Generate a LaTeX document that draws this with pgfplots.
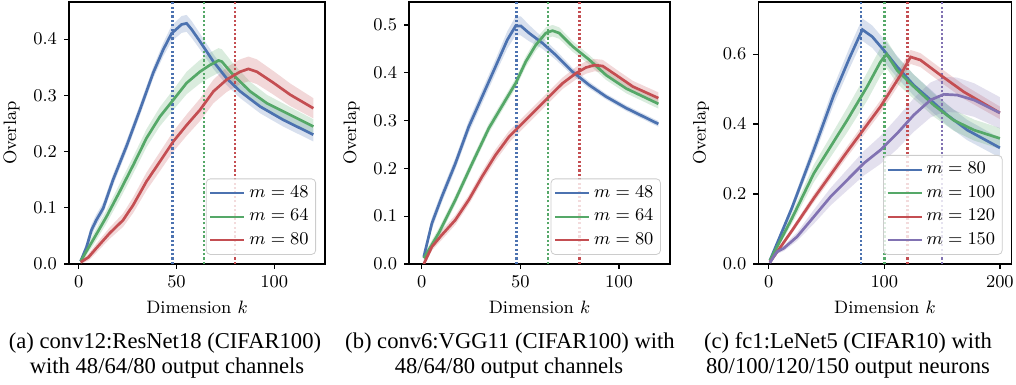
\documentclass[border=0pt]{standalone}
\usepackage{fontspec}
\usepackage{pgfplots}
\usepackage{pgfplotstable}
\pgfplotsset{compat=1.18}
\usepgfplotslibrary{fillbetween}
\newfontfamily\capfont{Liberation Serif}
\definecolor{cb}{HTML}{4C72B0}
\definecolor{cg}{HTML}{55A868}
\definecolor{cr}{HTML}{C44E52}
\definecolor{cp}{HTML}{8172B2}

\pgfplotstableread{
x y e
1 0.005 0.004
4 0.03 0.008
6.5 0.06 0.01
9 0.078 0.01
12.5 0.099 0.01
17.6 0.15 0.01
24.4 0.209 0.01
31.3 0.274 0.01
38.1 0.34 0.01
43.2 0.381 0.012
47.5 0.41 0.014
52.6 0.426 0.015
55.2 0.428 0.015
57.8 0.417 0.015
62 0.396 0.014
68.9 0.36 0.013
75.7 0.33 0.012
82.6 0.307 0.012
92.8 0.28 0.012
104.8 0.256 0.012
120 0.23 0.012
}\tAb
\pgfplotstableread{
x y e
1 0.005 0.004
7.4 0.043 0.01
14.2 0.084 0.012
21 0.129 0.014
27.9 0.176 0.015
34.7 0.224 0.016
41.5 0.262 0.017
48.4 0.292 0.018
55.2 0.322 0.02
62 0.342 0.021
67.2 0.354 0.022
71.5 0.362 0.022
73.2 0.36 0.022
79.1 0.336 0.02
87.7 0.307 0.017
96.2 0.286 0.015
106.5 0.268 0.014
120 0.2445 0.013
}\tAg
\pgfplotstableread{
x y e
1 0.003 0.003
5 0.012 0.006
9 0.028 0.008
15.9 0.055 0.01
22.7 0.078 0.012
27.9 0.105 0.014
34.7 0.147 0.016
41.5 0.182 0.017
48.4 0.218 0.018
55.2 0.247 0.019
62 0.274 0.02
68.9 0.307 0.021
75.7 0.328 0.022
82.6 0.342 0.022
86.8 0.347 0.022
91.1 0.342 0.022
99.7 0.322 0.021
108.2 0.301 0.02
120 0.277 0.018
}\tAr
\pgfplotstableread{
x y e
1 0.015 0.01
5.1 0.085 0.012
10.2 0.141 0.012
17 0.21 0.012
23.8 0.287 0.013
30.6 0.35 0.014
37.4 0.413 0.015
43.4 0.469 0.018
47.6 0.498 0.02
50.2 0.498 0.02
54.4 0.483 0.017
61.2 0.462 0.012
68 0.437 0.01
76.5 0.402 0.008
85 0.374 0.007
93.5 0.35 0.006
103.7 0.326 0.006
120 0.293 0.006
}\tBb
\pgfplotstableread{
x y e
1 0.012 0.008
8.5 0.064 0.01
17 0.134 0.01
25.5 0.21 0.01
34 0.284 0.01
42.5 0.343 0.01
47.6 0.378 0.01
52.7 0.423 0.011
57.8 0.458 0.012
62.9 0.483 0.012
66.3 0.488 0.012
69.7 0.483 0.012
76.5 0.455 0.011
85 0.427 0.01
93.5 0.395 0.01
103.7 0.367 0.01
120 0.335 0.01
}\tBg
\pgfplotstableread{
x y e
1 0.0 0.004
5.1 0.036 0.008
10.2 0.061 0.01
17 0.092 0.01
23.8 0.134 0.01
30.6 0.183 0.011
37.4 0.228 0.012
44.2 0.266 0.012
51 0.294 0.012
57.8 0.322 0.012
64.6 0.35 0.012
71.4 0.378 0.012
78.2 0.399 0.013
83.3 0.411 0.013
87.6 0.416 0.013
91.8 0.414 0.013
98.6 0.395 0.012
107.1 0.371 0.012
120 0.347 0.012
}\tBr
\pgfplotstableread{
x y e
1 0.01 0.005
20 0.16 0.012
39 0.326 0.02
56.3 0.483 0.026
70 0.59 0.03
81 0.67 0.032
89.5 0.65 0.032
99.6 0.611 0.032
111 0.564 0.031
125.5 0.511 0.03
140 0.469 0.03
154.4 0.426 0.03
171.7 0.383 0.029
200 0.332 0.028
}\tCb
\pgfplotstableread{
x y e
1 0.01 0.005
20 0.13 0.015
39 0.259 0.025
67.8 0.411 0.035
85.1 0.507 0.04
96.7 0.578 0.04
102 0.6 0.04
111 0.554 0.038
125.5 0.507 0.035
142.9 0.454 0.033
160 0.411 0.03
177.5 0.383 0.03
200 0.359 0.03
}\tCg
\pgfplotstableread{
x y e
1 0.005 0.004
20 0.095 0.008
39 0.188 0.012
67.8 0.321 0.015
96.7 0.45 0.018
114 0.54 0.02
122.7 0.592 0.02
131.3 0.583 0.02
148.6 0.54 0.02
168.8 0.492 0.02
200 0.432 0.018
}\tCr
\pgfplotstableread{
x y e
1 0.003 0.003
4 0.02 0.005
7.2 0.035 0.006
13 0.045 0.008
24.5 0.078 0.012
39 0.135 0.02
53.4 0.192 0.025
67.8 0.24 0.03
82.3 0.288 0.035
96.7 0.326 0.04
111 0.373 0.045
125.5 0.426 0.048
140 0.469 0.05
151.5 0.485 0.05
163 0.483 0.05
177.5 0.469 0.048
200 0.432 0.045
}\tCp

% #1 unique name, #2 table, #3 colour
\newcommand{\band}[3]{%
 \addplot[draw=none, name path=#1u, forget plot] table[x=x, y expr=\thisrow{y}+\thisrow{e}] {#2};
 \addplot[draw=none, name path=#1l, forget plot] table[x=x, y expr=\thisrow{y}-\thisrow{e}] {#2};
 \addplot[fill=#3, fill opacity=0.22, draw=none, forget plot] fill between[of=#1u and #1l];
}
\newcommand{\vl}[3]{% x, colour, ymax
 \addplot[#2, line width=1.2bp, dash pattern=on 1.1bp off 1.1bp, forget plot] coordinates {(#1,0) (#1,#3)};
}
\tikzset{ln/.style={line width=1.35bp}}

\pgfplotsset{
  panel/.style={
    scale only axis, height=131bp, ymin=0,
    axis line style={black, line width=0.6bp},
    tick style={black, line width=0.6bp},
    major tick length=2.5bp, tick align=outside,
    xtick pos=bottom, ytick pos=left,
    tick label style={font=\fontsize{9bp}{10bp}\selectfont},
    label style={font=\fontsize{9bp}{10bp}\selectfont},
    yticklabel style={/pgf/number format/.cd, fixed, fixed zerofill, precision=1},
    xlabel={Dimension $k$}, ylabel={Overlap},
    legend style={at={(0.965,0.035)}, anchor=south east, draw=black!20, rounded corners=2bp,
      fill=white, fill opacity=0.8, text opacity=1, font=\fontsize{8.5bp}{9bp}\selectfont,
      inner sep=1.5bp, row sep=0.5bp},
    legend cell align=left,
    legend image code/.code={\draw[##1, line width=1.1bp] (0bp,0bp) -- (17bp,0bp);},
  }
}

\begin{document}
\begin{tikzpicture}

\begin{axis}[panel, at={(34.5bp,60.5bp)}, anchor=south west, width=128bp,
  xmin=-4.95, xmax=125.95, ymax=0.466, xtick={0,50,100}, ytick={0,0.1,0.2,0.3,0.4}]
\band{ab}{\tAb}{cb}
\band{ag}{\tAg}{cg}
\band{ar}{\tAr}{cr}
\vl{48}{cb}{0.466}
\vl{64}{cg}{0.466}
\vl{80}{cr}{0.466}
\addplot[cb, ln] table[x=x,y=y] {\tAb};
\addplot[cg, ln] table[x=x,y=y] {\tAg};
\addplot[cr, ln] table[x=x,y=y] {\tAr};
\legend{$m=48$,$m=64$,$m=80$}
\end{axis}

\begin{axis}[panel, at={(204.5bp,60.5bp)}, anchor=south west, width=130.5bp,
  xmin=-6.5, xmax=125.9, ymax=0.548, xtick={0,50,100}, ytick={0,0.1,0.2,0.3,0.4,0.5}]
\band{bb}{\tBb}{cb}
\band{bg}{\tBg}{cg}
\band{br}{\tBr}{cr}
\vl{48}{cb}{0.548}
\vl{64}{cg}{0.548}
\vl{80}{cr}{0.548}
\addplot[cb, ln] table[x=x,y=y] {\tBb};
\addplot[cg, ln] table[x=x,y=y] {\tBg};
\addplot[cr, ln] table[x=x,y=y] {\tBr};
\legend{$m=48$,$m=64$,$m=80$}
\end{axis}

\begin{axis}[panel, at={(379.2bp,60.5bp)}, anchor=south west, width=126.5bp,
  xmin=-8.95, xmax=209.95, ymax=0.749, xtick={0,100,200}, ytick={0,0.2,0.4,0.6}]
\band{cb}{\tCb}{cb}
\band{cg}{\tCg}{cg}
\band{cr}{\tCr}{cr}
\band{cp}{\tCp}{cp}
\vl{80}{cb}{0.749}
\vl{100}{cg}{0.749}
\vl{120}{cr}{0.749}
\vl{150}{cp}{0.749}
\addplot[cb, ln] table[x=x,y=y] {\tCb};
\addplot[cg, ln] table[x=x,y=y] {\tCg};
\addplot[cr, ln] table[x=x,y=y] {\tCr};
\addplot[cp, ln] table[x=x,y=y] {\tCp};
\legend{$m=80$,$m=100$,$m=120$,$m=150$}
\end{axis}

\begin{scope}[every node/.style={anchor=base, inner sep=0pt, font=\capfont\fontsize{11.3bp}{12.5bp}\selectfont}]
\node at (82.5bp,18.5bp) {(a) conv12:ResNet18 (CIFAR100)};
\node at (83.5bp,6bp) {with 48/64/80 output channels};
\node at (255bp,18.5bp) {(b) conv6:VGG11 (CIFAR100) with};
\node at (254.5bp,6bp) {48/64/80 output channels};
\node at (424bp,18.5bp) {(c) fc1:LeNet5 (CIFAR10) with};
\node at (424bp,6bp) {80/100/120/150 output neurons};
\end{scope}
\pgfresetboundingbox
\path[use as bounding box] (0,0) rectangle (508bp,192.5bp);
\end{tikzpicture}
\end{document}
